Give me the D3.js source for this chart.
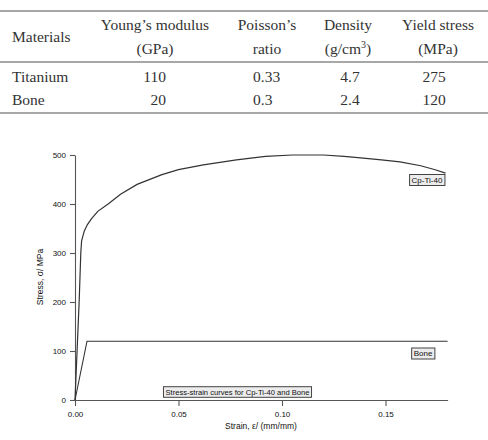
<!DOCTYPE html>
<html>
<head>
<meta charset="utf-8">
<script src="https://cdn.jsdelivr.net/npm/d3@7"></script>
<style>
  body { margin: 0; background: #fff; }
  svg { display: block; }
</style>
</head>
<body>
<div id="chart"></div>
<script>
// table data
var headers = [["Materials"], ["Young\u2019s modulus", "(GPa)"], ["Poisson\u2019s", "ratio"], ["Density", "(g/cm3)"], ["Yield stress", "(MPa)"]];
var materials = ["Titanium", "Bone"];
var youngs = ["110", "20"];
var poisson = ["0.33", "0.3"];
var density = ["4.7", "2.4"];
var yieldStress = ["275", "120"];

// curve data (strain mm/mm, stress MPa)
var tiStrain = [0, 0.001, 0.002, 0.0028, 0.0032, 0.0045, 0.006, 0.008, 0.011, 0.016, 0.022, 0.03, 0.042, 0.05, 0.062, 0.078, 0.092, 0.105, 0.12, 0.13, 0.138, 0.148, 0.157, 0.167, 0.174, 0.179];
var tiStress = [0, 100, 200, 300, 325, 345, 358, 370, 385, 400, 420, 440, 460, 470, 480, 490, 497, 500, 500, 497, 494, 490, 486, 478, 470, 463];
var boneStrain = [0, 0.0058, 0.18];
var boneStress = [0, 120, 120];
var yTicks = [0, 100, 200, 300, 400, 500];
var xTicks = [0, 0.05, 0.10, 0.15];

var W = 488, H = 440;
var svg = d3.select("#chart").append("svg")
  .attr("width", W).attr("height", H);

// ---- table ----
var serif = "'Liberation Serif', 'Times New Roman', serif";
var ink = "#333";
var colX = [12, 155, 267, 348, 438];

[11, 62, 113].forEach(function(y) {
  svg.append("line")
    .attr("x1", 0).attr("x2", W).attr("y1", y).attr("y2", y)
    .style("stroke", "#8a8a8a").style("stroke-width", 1.3);
});

var t = svg.append("g").style("font-family", serif).style("font-size", "15.5px").style("fill", ink);

headers.forEach(function(h, i) {
  if (h.length == 1) {
    t.append("text").attr("x", colX[i]).attr("y", 42).text(h[0]);
  } else {
    t.append("text").attr("x", colX[i]).attr("y", 30).attr("text-anchor", "middle").text(h[0]);
    var l2 = t.append("text").attr("x", colX[i]).attr("y", 54).attr("text-anchor", "middle");
    if (h[1] == "(g/cm3)") {
      l2.append("tspan").text("(g/cm");
      l2.append("tspan").attr("dy", -6).style("font-size", "10px").text("3");
      l2.append("tspan").attr("dy", 6).text(")");
    } else {
      l2.text(h[1]);
    }
  }
});

var rowY = [82, 105];
materials.forEach(function(m, r) {
  t.append("text").attr("x", 12).attr("y", rowY[r]).text(m);
  t.append("text").attr("x", 166).attr("y", rowY[r]).attr("text-anchor", "end").text(youngs[r]);
  t.append("text").attr("x", 253).attr("y", rowY[r]).text(poisson[r]);
  t.append("text").attr("x", 350).attr("y", rowY[r]).attr("text-anchor", "middle").text(density[r]);
  t.append("text").attr("x", 434).attr("y", rowY[r]).attr("text-anchor", "middle").text(yieldStress[r]);
});

// ---- chart ----
var sans = "'Liberation Sans', Arial, sans-serif";
var x = d3.scaleLinear().domain([0, 0.18]).range([75, 447.6]);
var y = d3.scaleLinear().domain([0, 500]).range([400, 155]);

var yAxis = svg.append("g")
  .attr("transform", "translate(75,0)")
  .call(d3.axisLeft(y).tickValues(yTicks).tickSize(5).tickSizeOuter(0).tickPadding(4));
var xAxis = svg.append("g")
  .attr("transform", "translate(0,400)")
  .call(d3.axisBottom(x).tickValues(xTicks).tickFormat(d3.format(".2f")).tickSize(6).tickSizeOuter(0).tickPadding(5));

[xAxis, yAxis].forEach(function(a) {
  a.selectAll("path, line").style("stroke", "#555").style("stroke-width", 1.1);
  a.selectAll("text").style("font-family", sans).style("font-size", "8px").style("fill", "#111");
});

svg.append("text")
  .attr("transform", "translate(43,277) rotate(-90)")
  .attr("text-anchor", "middle")
  .style("font-family", sans).style("font-size", "8.5px").style("fill", "#111")
  .text("Stress, \u03c3/ MPa");

svg.append("text")
  .attr("x", 261).attr("y", 429)
  .attr("text-anchor", "middle")
  .style("font-family", sans).style("font-size", "8.5px").style("fill", "#111")
  .text("Strain, \u03b5/ (mm/mm)");

var line = d3.line().x(function(d) { return x(d[0]); }).y(function(d) { return y(d[1]); });

var tiData = d3.zip(tiStrain, tiStress);
var boneData = d3.zip(boneStrain, boneStress);

svg.append("path").datum(tiData).attr("d", line)
  .style("fill", "none").style("stroke", "#333").style("stroke-width", 1.2);
svg.append("path").datum(boneData).attr("d", line)
  .style("fill", "none").style("stroke", "#333").style("stroke-width", 1.1);

// boxed labels
function boxLabel(cx, cy, txt, size) {
  var g = svg.append("g");
  var tx = g.append("text").attr("x", cx).attr("y", cy).attr("text-anchor", "middle")
    .attr("dominant-baseline", "central")
    .style("font-family", sans).style("font-size", size + "px").style("fill", "#111")
    .text(txt);
  var bb = tx.node().getBBox();
  g.insert("rect", "text")
    .attr("x", bb.x - 2).attr("y", cy - size / 2 - 1.5)
    .attr("width", bb.width + 4).attr("height", size + 3)
    .style("fill", "#ececec").style("stroke", "#444").style("stroke-width", 1);
}
boxLabel(427, 180, "Cp-Ti-40", 8);
boxLabel(423, 353.5, "Bone", 8);
boxLabel(237.5, 392, "Stress-strain curves for Cp-Ti-40 and Bone", 7.6);
</script>
</body>
</html>
